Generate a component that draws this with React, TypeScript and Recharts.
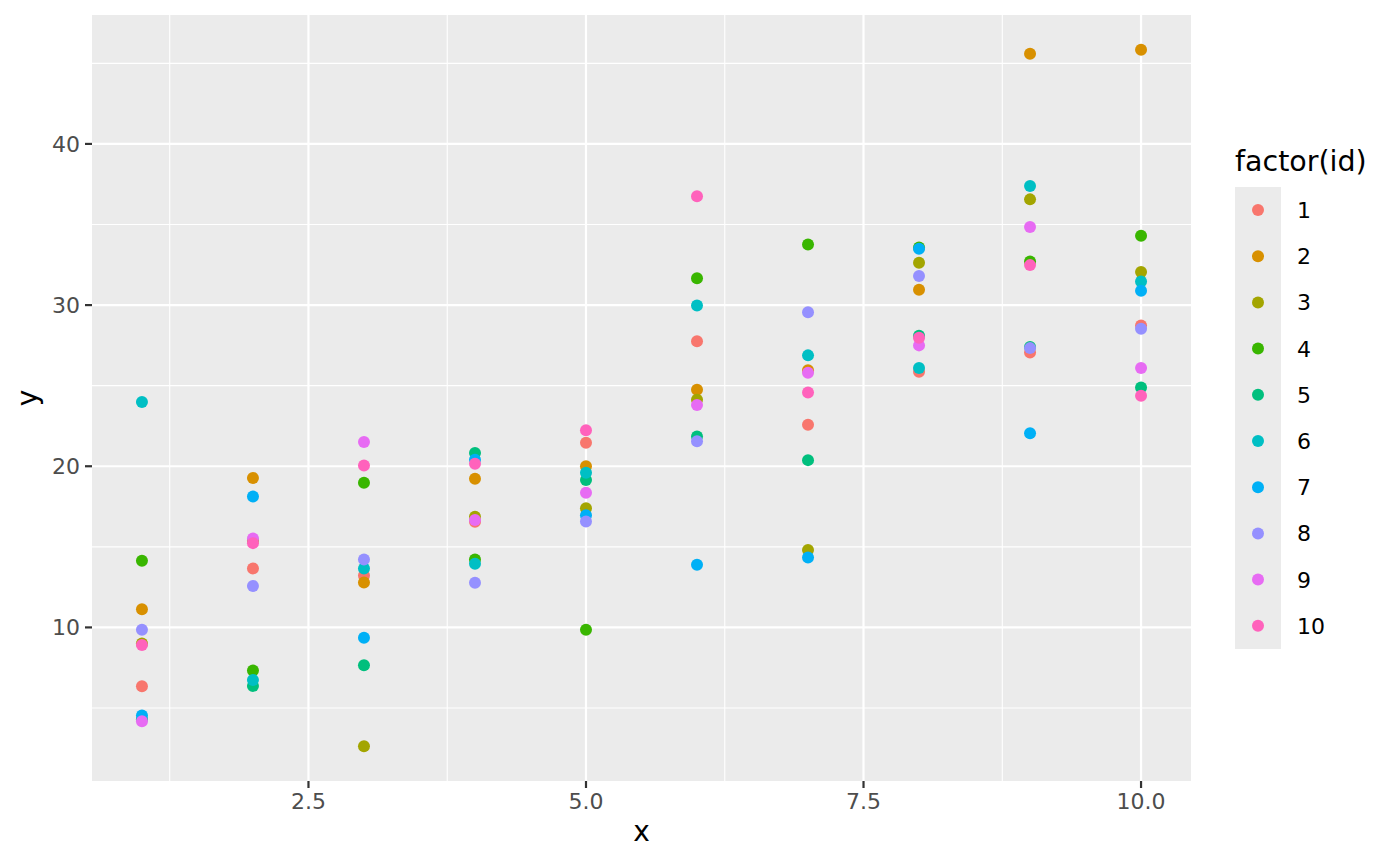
import React from "react";
import {
  ScatterChart,
  Scatter,
  XAxis,
  YAxis,
  CartesianGrid,
  ReferenceLine,
  Label,
} from "recharts";

// x positions shared by every id
const X_VALUES = [1, 2, 3, 4, 5, 6, 7, 8, 9, 10];

// y values per id (one value per x)
const ID_1 = [6.35, 13.66, 13.22, 16.55, 21.46, 27.75, 22.57, 25.86, 27.06, 28.73];
const ID_2 = [11.12, 19.27, 12.79, 19.23, 20.0, 24.75, 25.95, 30.95, 45.59, 45.84];
const ID_3 = [9.0, 15.4, 2.63, 16.86, 17.4, 24.13, 14.8, 32.63, 36.56, 32.05];
const ID_4 = [14.13, 7.32, 18.97, 14.21, 9.86, 31.67, 33.76, 33.58, 32.71, 34.3];
const ID_5 = [4.3, 6.37, 7.65, 20.82, 19.15, 21.84, 20.38, 28.1, 27.4, 24.88];
const ID_6 = [23.98, 6.74, 13.66, 13.95, 19.59, 29.98, 26.88, 26.1, 37.39, 31.47];
const ID_7 = [4.53, 18.12, 9.36, 20.4, 16.96, 13.89, 14.34, 33.5, 22.05, 30.89];
const ID_8 = [9.86, 12.57, 14.21, 12.77, 16.57, 21.55, 29.55, 31.8, 27.33, 28.53];
const ID_9 = [4.18, 15.51, 21.5, 16.67, 18.35, 23.8, 25.8, 27.5, 34.84, 26.1];
const ID_10 = [8.91, 15.23, 20.04, 20.16, 22.23, 36.75, 24.57, 27.97, 32.48, 24.37];

const SERIES_VALUES = [ID_1, ID_2, ID_3, ID_4, ID_5, ID_6, ID_7, ID_8, ID_9, ID_10];
const ID_LABELS = ["1", "2", "3", "4", "5", "6", "7", "8", "9", "10"];
const COLORS = [
  "#F8766D",
  "#D89000",
  "#A3A500",
  "#39B600",
  "#00BF7D",
  "#00BFC4",
  "#00B0F6",
  "#9590FF",
  "#E76BF3",
  "#FF62BC",
];

// axis ticks and grid
const X_TICKS = [2.5, 5.0, 7.5, 10.0];
const X_MINOR = [1.25, 3.75, 6.25, 8.75];
const Y_TICKS = [10, 20, 30, 40];
const Y_MINOR = [5, 15, 25, 35, 45];
const X_DOMAIN = [0.55, 10.45];
const Y_DOMAIN = [0.47, 48.0];

const FONT = "'DejaVu Sans', sans-serif";

const makeShape = (color: string) => (props: any) => {
  if (props.cx == null || props.cy == null) return <g />;
  return <circle cx={props.cx} cy={props.cy} r={6} fill={color} />;
};

export default function App() {
  const seriesData = SERIES_VALUES.map((vals) =>
    X_VALUES.map((x, i) => ({ x, y: vals[i] }))
  );

  return (
    <div
      style={{
        position: "absolute",
        left: 0,
        top: 0,
        width: 1400,
        height: 865,
        background: "#FFFFFF",
        fontFamily: FONT,
      }}
    >
      <ScatterChart
        width={1400}
        height={865}
        margin={{ top: 15, right: 209, bottom: 24, left: 22 }}
      >
        <CartesianGrid
          fill="#EBEBEB"
          stroke="none"
          horizontal={false}
          vertical={false}
        />
        {X_MINOR.map((v) => (
          <ReferenceLine key={"xm" + v} x={v} stroke="#FFFFFF" strokeWidth={1.1} />
        ))}
        {Y_MINOR.map((v) => (
          <ReferenceLine key={"ym" + v} y={v} stroke="#FFFFFF" strokeWidth={1.1} />
        ))}
        {X_TICKS.map((v) => (
          <ReferenceLine key={"xM" + v} x={v} stroke="#FFFFFF" strokeWidth={2.2} />
        ))}
        {Y_TICKS.map((v) => (
          <ReferenceLine key={"yM" + v} y={v} stroke="#FFFFFF" strokeWidth={2.2} />
        ))}
        <XAxis
          type="number"
          dataKey="x"
          domain={X_DOMAIN}
          allowDataOverflow
          ticks={X_TICKS}
          interval={0}
          tickFormatter={(v: number) => v.toFixed(1)}
          axisLine={false}
          tickLine={{ stroke: "#333333", strokeWidth: 2.2 }}
          tickSize={7}
          tickMargin={5}
          height={60}
          tick={{ fill: "#4D4D4D", fontSize: 22, fontFamily: FONT }}
        >
          <Label
            content={(p: any) => {
              const vb = p.viewBox || { x: 92, width: 1099 };
              return (
                <text
                  x={vb.x + vb.width / 2}
                  y={841}
                  textAnchor="middle"
                  fill="#000000"
                  fontSize={28}
                  fontFamily={FONT}
                >
                  x
                </text>
              );
            }}
          />
        </XAxis>
        <YAxis
          type="number"
          dataKey="y"
          domain={Y_DOMAIN}
          allowDataOverflow
          ticks={Y_TICKS}
          interval={0}
          axisLine={false}
          tickLine={{ stroke: "#333333", strokeWidth: 2.2 }}
          tickSize={7}
          tickMargin={5}
          width={70}
          tick={{ fill: "#4D4D4D", fontSize: 22, fontFamily: FONT }}
        >
          <Label
            content={(p: any) => {
              const vb = p.viewBox || { y: 15, height: 766 };
              const cy = vb.y + vb.height / 2;
              return (
                <text
                  x={37}
                  y={cy}
                  transform={`rotate(-90, 37, ${cy})`}
                  textAnchor="middle"
                  fill="#000000"
                  fontSize={28}
                  fontFamily={FONT}
                >
                  y
                </text>
              );
            }}
          />
        </YAxis>
        {seriesData.map((d, i) => (
          <Scatter
            key={ID_LABELS[i]}
            name={ID_LABELS[i]}
            data={d}
            fill={COLORS[i]}
            shape={makeShape(COLORS[i])}
            isAnimationActive={false}
          />
        ))}
      </ScatterChart>
      <svg
        width={1400}
        height={865}
        style={{ position: "absolute", left: 0, top: 0, pointerEvents: "none" }}
      >
        <text x={1235} y={171} fontSize={28.5} fontFamily={FONT} fill="#000000">
          factor(id)
        </text>
        <rect x={1235} y={187} width={46} height={462} fill="#EBEBEB" />
        {ID_LABELS.map((lab, i) => {
          const cy = 210 + i * 46.2;
          return (
            <g key={lab}>
              <circle cx={1258} cy={cy} r={6} fill={COLORS[i]} />
              <text
                x={1297}
                y={cy}
                dy="0.36em"
                fontSize={22}
                fontFamily={FONT}
                fill="#000000"
              >
                {lab}
              </text>
            </g>
          );
        })}
      </svg>
    </div>
  );
}
